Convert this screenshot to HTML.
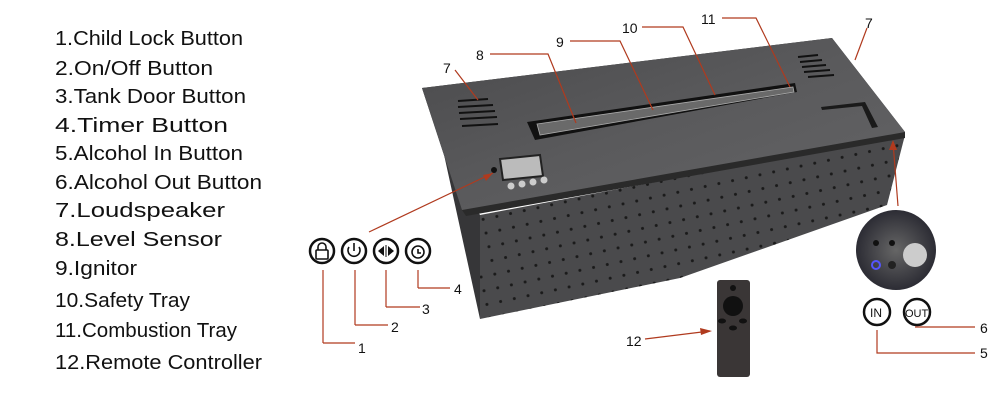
<!DOCTYPE html>
<html><head><meta charset="utf-8"><style>
html,body{margin:0;padding:0;background:#fff;}
svg{display:block;}
text{font-family:"Liberation Sans",sans-serif;}
</style></head><body>
<svg width="1000" height="400" viewBox="0 0 1000 400" xmlns="http://www.w3.org/2000/svg">
<defs>
<linearGradient id="pl" x1="0" y1="0" x2="1" y2="1"><stop offset="0" stop-color="#4a4a4c"/><stop offset="0.5" stop-color="#5a5a5c"/><stop offset="1" stop-color="#646466"/></linearGradient>
<pattern id="holes" width="14" height="14" patternUnits="userSpaceOnUse" patternTransform="rotate(-12)"><circle cx="7" cy="7" r="1.5" fill="#1a1a1a"/></pattern>
<radialGradient id="ins" cx="0.5" cy="0.5" r="0.5"><stop offset="0" stop-color="#666"/><stop offset="1" stop-color="#2c2c34"/></radialGradient>
</defs>
<g font-size="20" fill="#111">
<text x="55" y="45" textLength="188" lengthAdjust="spacingAndGlyphs">1.Child Lock Button</text>
<text x="55" y="75" textLength="158" lengthAdjust="spacingAndGlyphs">2.On/Off Button</text>
<text x="55" y="103" textLength="191" lengthAdjust="spacingAndGlyphs">3.Tank Door Button</text>
<text x="55" y="132" textLength="173" lengthAdjust="spacingAndGlyphs">4.Timer Button</text>
<text x="55" y="160" textLength="188" lengthAdjust="spacingAndGlyphs">5.Alcohol In Button</text>
<text x="55" y="189" textLength="207" lengthAdjust="spacingAndGlyphs">6.Alcohol Out Button</text>
<text x="55" y="217" textLength="170" lengthAdjust="spacingAndGlyphs">7.Loudspeaker</text>
<text x="55" y="246" textLength="167" lengthAdjust="spacingAndGlyphs">8.Level Sensor</text>
<text x="55" y="275" textLength="82" lengthAdjust="spacingAndGlyphs">9.Ignitor</text>
<text x="55" y="307" textLength="135" lengthAdjust="spacingAndGlyphs">10.Safety Tray</text>
<text x="55" y="337" textLength="182" lengthAdjust="spacingAndGlyphs">11.Combustion Tray</text>
<text x="55" y="369" textLength="207" lengthAdjust="spacingAndGlyphs">12.Remote Controller</text>
</g>
<!-- box body -->
<polygon points="443,150 480,215 480,319" fill="#363638"/>
<polygon points="480,215 905,135 887,205 680,278 480,319" fill="#4a4a4c"/>
<polygon points="480,215 905,135 887,205 680,278 480,319" fill="url(#holes)"/>
<!-- plate -->
<polygon points="422,88 832,38 905,132 905,138 466,216 462,210" fill="#2a2a2a"/>
<polygon points="422,88 832,38 905,132 462,210" fill="url(#pl)"/>
<!-- slot -->
<polygon points="527,122 795,83 797,92 535,140" fill="#111"/>
<polygon points="537,124 793,87 794,92 540,135" fill="#6a6a6a" stroke="#aaa" stroke-width="0.8"/>
<polygon points="821,107 865,102 878,127 872,128 862,106 822,110" fill="#1a1a1a"/>
<!-- vents -->
<g stroke="#111" stroke-width="2">
<line x1="458" y1="101" x2="488" y2="99"/><line x1="458" y1="107" x2="493" y2="105"/><line x1="459" y1="113" x2="495" y2="111"/><line x1="460" y1="119" x2="497" y2="117"/><line x1="462" y1="126" x2="498" y2="124"/>
<line x1="798" y1="57" x2="818" y2="55"/><line x1="800" y1="62" x2="822" y2="60"/><line x1="802" y1="67" x2="826" y2="65"/><line x1="804" y1="72" x2="830" y2="70"/><line x1="808" y1="77" x2="834" y2="75"/>
</g>
<!-- control panel -->
<polygon points="500,159 540,155 543,176 503,180" fill="#bbb" stroke="#222" stroke-width="2"/>
<circle cx="494" cy="170" r="3" fill="#111"/>
<g fill="#ccc"><circle cx="511" cy="186" r="3.5"/><circle cx="522" cy="184" r="3.5"/><circle cx="533" cy="182" r="3.5"/><circle cx="544" cy="180" r="3.5"/></g>
<!-- leaders -->
<g stroke="#b03a1e" stroke-width="1.2" fill="none">
<line x1="369" y1="232" x2="493" y2="173"/>
<line x1="323" y1="270" x2="323" y2="343"/><line x1="323" y1="343" x2="355" y2="343"/>
<line x1="355" y1="270" x2="355" y2="325"/><line x1="355" y1="325" x2="388" y2="325"/>
<line x1="386" y1="270" x2="386" y2="307"/><line x1="386" y1="307" x2="420" y2="307"/>
<line x1="418" y1="270" x2="418" y2="288"/><line x1="418" y1="288" x2="450" y2="288"/>
<polyline points="455,70 478,100"/>
<polyline points="490,54 548,54 576,123"/>
<polyline points="570,41 620,41 653,110"/>
<polyline points="642,27 683,27 715,95"/>
<polyline points="722,18 756,18 790,87"/>
<polyline points="867,28 855,60"/>
<line x1="898" y1="206" x2="893" y2="142"/>
<line x1="645" y1="339" x2="710" y2="331"/>
<polyline points="877,330 877,353 975,353"/>
<line x1="915" y1="327" x2="975" y2="327"/>
</g>
<g fill="#b03a1e">
<polygon points="493,173 483,175 486,181"/>
<polygon points="893,140 889,150 897,150"/>
<polygon points="712,331 700,328 701,335"/>
</g>
<!-- icons -->
<g stroke="#111" stroke-width="2.5" fill="#fff">
<circle cx="322" cy="251" r="12"/><circle cx="354" cy="251" r="12"/><circle cx="386" cy="251" r="12"/><circle cx="418" cy="251" r="12"/>
</g>
<g stroke="#111" stroke-width="1.6" fill="none">
<rect x="316" y="250" width="12" height="9" rx="1"/><path d="M318,250 v-3 a4,4 0 0 1 8,0 v3"/>
<path d="M349,247 a6,6 0 1 0 10,0"/><line x1="354" y1="243" x2="354" y2="251"/>
<circle cx="418" cy="252" r="6"/><polyline points="418,249 418,253 421,253"/>
</g>
<g fill="#111"><polygon points="384,246 384,256 378,251"/><polygon points="388,246 388,256 394,251"/><rect x="385.5" y="245" width="1" height="12"/></g>
<g font-size="14" fill="#111">
<text x="358" y="353">1</text><text x="391" y="332">2</text><text x="422" y="314">3</text><text x="454" y="294">4</text>
<text x="443" y="73">7</text><text x="476" y="60">8</text><text x="556" y="47">9</text><text x="622" y="33">10</text><text x="701" y="24">11</text><text x="865" y="28">7</text>
<text x="626" y="346">12</text><text x="980" y="333">6</text><text x="980" y="358">5</text>
</g>
<!-- inset -->
<circle cx="896" cy="250" r="40" fill="url(#ins)"/>
<circle cx="876" cy="243" r="3" fill="#111"/><circle cx="892" cy="243" r="3" fill="#111"/>
<circle cx="876" cy="265" r="4" fill="none" stroke="#55f" stroke-width="2"/>
<circle cx="892" cy="265" r="4" fill="#222"/>
<circle cx="915" cy="255" r="12" fill="#ccc"/>
<circle cx="877" cy="312" r="13" fill="#fff" stroke="#111" stroke-width="2.5"/>
<circle cx="917" cy="312" r="13" fill="#fff" stroke="#111" stroke-width="2.5"/>
<text x="870" y="317" font-size="12" fill="#111">IN</text>
<text x="905" y="317" font-size="11" fill="#111">OUT</text>
<!-- remote -->
<rect x="717" y="280" width="33" height="97" rx="3" fill="#3a3636"/>
<circle cx="733" cy="288" r="3" fill="#111"/>
<circle cx="733" cy="306" r="10" fill="#111"/>
<ellipse cx="722" cy="321" rx="4" ry="2.5" fill="#111"/><ellipse cx="743" cy="321" rx="4" ry="2.5" fill="#111"/>
<ellipse cx="733" cy="328" rx="4" ry="2.5" fill="#111"/>
</svg>
</body></html>
